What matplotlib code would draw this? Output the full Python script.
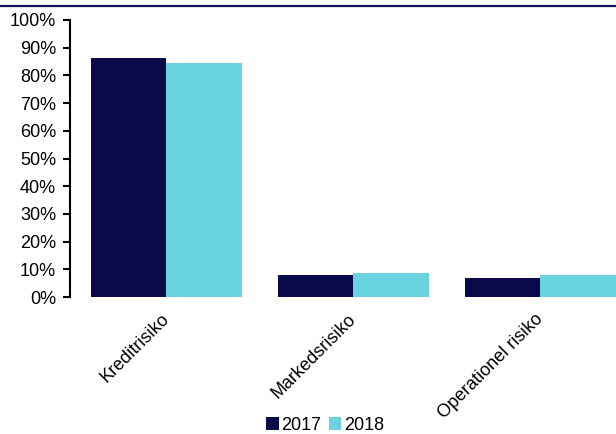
import numpy as np
import matplotlib
matplotlib.use("Agg")
import matplotlib.pyplot as plt
from matplotlib.lines import Line2D

# data
categories = ['Kreditrisiko', 'Markedsrisiko', 'Operationel risiko']
years = ['2017', '2018']
v2017 = [86.2, 8.0, 6.8]
v2018 = [84.4, 8.6, 7.9]

c2017 = '#0a0a4b'
c2018 = '#69d3df'

plt.rcParams['font.family'] = ['Liberation Sans', 'DejaVu Sans']
plt.rcParams['font.size'] = 13

fig = plt.figure(figsize=(6.16, 4.34), dpi=100)
ax = fig.add_axes([70/616, 137/434, 561/616, 277/434])

x = np.arange(len(categories))
w = 0.405
ax.bar(x - w/2, v2017, width=w, color=c2017, label=years[0])
ax.bar(x + w/2, v2018, width=w, color=c2018, label=years[1])

ax.set_xlim(-0.515, 2.485)
ax.set_ylim(0, 100)
ax.set_yticks(np.arange(0, 101, 10))
ax.set_yticklabels([f'{t}%' for t in range(0, 101, 10)])
ax.tick_params(axis='y', length=5, width=1.5, pad=5)

ax.set_xticks(x)
ax.set_xticklabels(categories, rotation=45, ha='right', va='center',
                   rotation_mode='anchor')
ax.tick_params(axis='x', length=0, pad=14)

for s in ['top', 'right', 'bottom']:
    ax.spines[s].set_visible(False)
ax.spines['left'].set_linewidth(1.5)

fig.add_artist(Line2D([0, 1], [1 - 6/434, 1 - 6/434], transform=fig.transFigure,
                      color='#14145a', lw=1.6))

fig.legend(loc='center', bbox_to_anchor=(325/616, 9/434), ncol=2, frameon=False,
           handlelength=0.7, handleheight=0.7, handletextpad=0.15,
           columnspacing=0.4, borderpad=0)

plt.savefig('out.png', dpi=100)
